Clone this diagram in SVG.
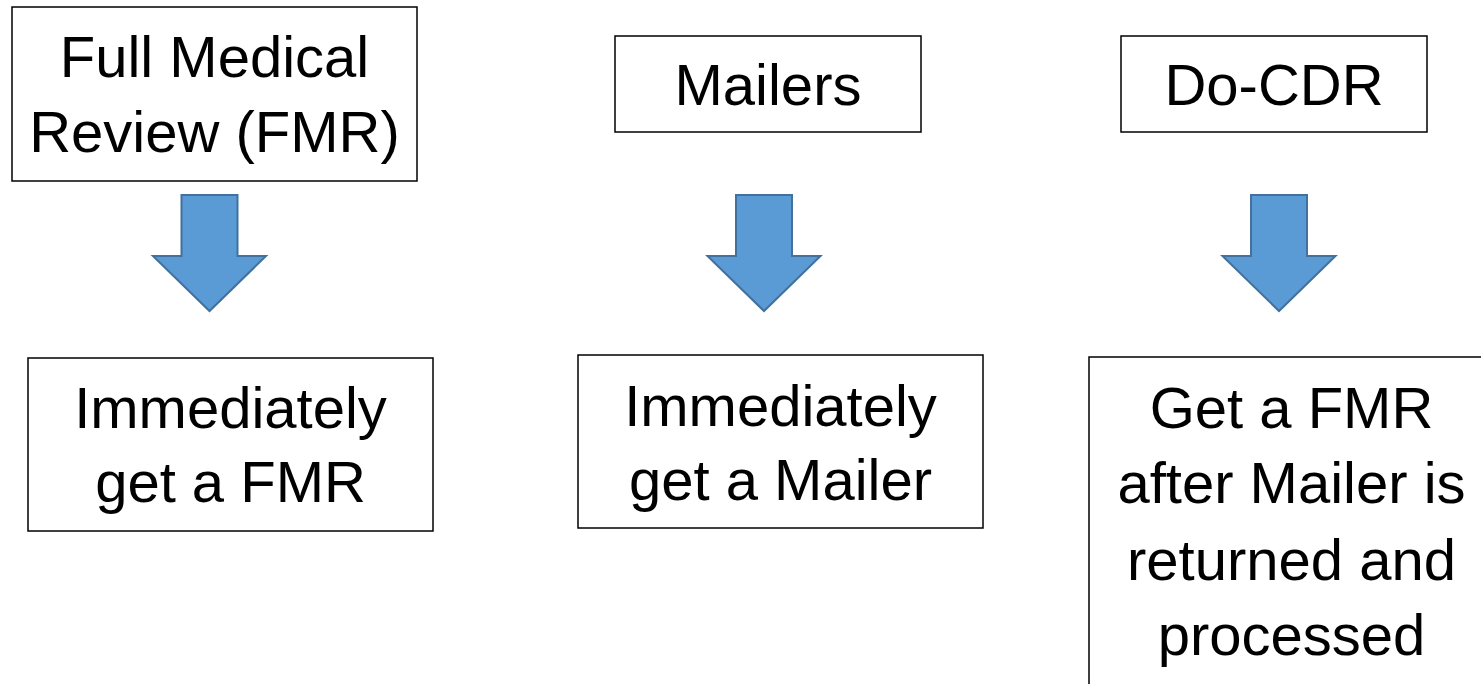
<svg xmlns="http://www.w3.org/2000/svg" width="1481" height="684" viewBox="0 0 1481 684">
<style>
.box{fill:#fff;stroke:#000;stroke-width:1.5}
.t{font-family:"Liberation Sans",Arial,sans-serif;font-size:58px;fill:#000;text-anchor:middle}
.arr{fill:#5B9BD5;stroke:#41719C;stroke-width:2;stroke-linejoin:miter}
</style>
<rect width="1481" height="684" fill="#fff"/>
<g id="fmr">
<rect class="box" x="12" y="7" width="405" height="174"/>
<text class="t" x="214.5" y="77">Full Medical</text>
<text class="t" x="214.5" y="152">Review (FMR)</text>
</g>
<g id="mailers">
<rect class="box" x="615" y="36" width="306" height="96"/>
<text class="t" x="768" y="105">Mailers</text>
</g>
<g id="docdr">
<rect class="box" x="1121" y="36" width="306" height="96"/>
<text class="t" x="1274" y="105">Do-CDR</text>
</g>
<g id="fmr-result">
<rect class="box" x="28" y="358" width="405" height="173"/>
<text class="t" x="230.5" y="428">Immediately</text>
<text class="t" x="230.5" y="502">get a FMR</text>
</g>
<g id="mailer-result">
<rect class="box" x="578" y="355" width="405" height="173"/>
<text class="t" x="780.5" y="426">Immediately</text>
<text class="t" x="780.5" y="500">get a Mailer</text>
</g>
<g id="docdr-result">
<rect class="box" x="1089" y="357" width="405" height="340"/>
<text class="t" x="1291.5" y="428">Get a FMR</text>
<text class="t" x="1291.5" y="503">after Mailer is</text>
<text class="t" x="1291.5" y="580">returned and</text>
<text class="t" x="1291.5" y="655">processed</text>
</g>
<g id="connectors">
<polygon class="arr" points="181.5,195 237.5,195 237.5,256 266,256 209.5,311 153,256 181.5,256"/>
<polygon class="arr" points="736,195 792,195 792,256 820.5,256 764,311 707.5,256 736,256"/>
<polygon class="arr" points="1251,195 1307,195 1307,256 1335.5,256 1279,311 1222.5,256 1251,256"/>
</g>
</svg>
